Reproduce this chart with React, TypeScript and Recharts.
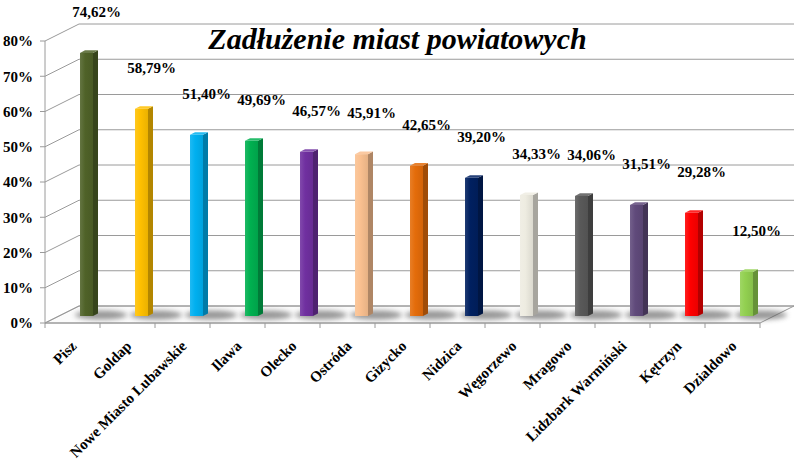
import { Bar, BarChart, CartesianGrid, LabelList, XAxis, YAxis } from 'recharts'

const CITIES = [
  'Pisz',
  'Goldap',
  'Nowe Miasto Lubawskie',
  'Ilawa',
  'Olecko',
  'Ostróda',
  'Gizycko',
  'Nidzica',
  'Węgorzewo',
  'Mragowo',
  'Lidzbark Warmiński',
  'Kętrzyn',
  'Dzialdowo',
]
const DEBT = [74.62, 58.79, 51.4, 49.69, 46.57, 45.91, 42.65, 39.2, 34.33, 34.06, 31.51, 29.28, 12.5]
const COLORS = [
  '#4f6228', '#ffc000', '#00b0f0', '#00b050', '#7030a0', '#fac090', '#e46c0a',
  '#002060', '#eeece1', '#595959', '#604a7b', '#ff0000', '#92d050',
]
const Y_TICKS = [0, 10, 20, 30, 40, 50, 60, 70, 80]

const data = CITIES.map((name, i) => ({ name, value: DEBT[i], color: COLORS[i] }))

// fake 3d: back wall is shifted by DX/DY, bars stand a bit behind the front edge
const W = 800
const H = 460
const M_TOP = 41
const M_RIGHT = 40
const AXIS_W = 45
const AXIS_H = 137
const PLOT_BOTTOM = H - AXIS_H
const BAND = (W - M_RIGHT - AXIS_W) / CITIES.length
const DX = 34
const DY = -17
const BAR_OX = 14
const BAR_OY = -7
const GRID = '#9a9a9a'
const SERIF = 'Liberation Serif'

const textStyle = { fontFamily: SERIF, fontWeight: 700 }

function shade(hex: string, f: number) {
  const n = parseInt(hex.slice(1), 16)
  const ch = [(n >> 16) & 255, (n >> 8) & 255, n & 255]
  const m = (v: number) => Math.round(f < 1 ? v * f : v + (255 - v) * (f - 1))
  return `rgb(${ch.map(m).join(',')})`
}

const pct = (v: number) => v.toFixed(2).replace('.', ',') + '%'

function GridLine(props: any) {
  const { x1, y1, x2 } = props
  const isFloor = Math.abs(y1 - PLOT_BOTTOM) < 1
  return (
    <g key={props.key}>
      {isFloor && (
        <path
          d={`M${x1},${y1} L${x1 + DX},${y1 + DY} L${x2 + DX},${y1 + DY} L${x2},${y1} Z`}
          fill="#fbfbfb"
          stroke={GRID}
        />
      )}
      <path d={`M${x1},${y1} L${x1 + DX},${y1 + DY} L${x2 + DX},${y1 + DY}`} fill="none" stroke={GRID} />
    </g>
  )
}

function Bar3D(props: any) {
  const { x, y, width, height, payload, index } = props
  const bx = x + BAR_OX
  const by = y + BAR_OY
  const d = 5
  const dd = 2.6
  const c = payload.color
  return (
    <g>
      <defs>
        <filter id={`sh${index}`} x="-50%" y="-100%" width="200%" height="300%">
          <feGaussianBlur stdDeviation="2.5" />
        </filter>
        <linearGradient id={`fg${index}`} x1="0" x2="1" y1="0" y2="0">
          <stop offset="0" stopColor={shade(c, 1.12)} />
          <stop offset="0.4" stopColor={c} />
          <stop offset="1" stopColor={shade(c, 0.92)} />
        </linearGradient>
      </defs>
      <ellipse
        cx={bx + width + 8}
        cy={by + height - 1}
        rx={26}
        ry={4.5}
        fill="#555"
        opacity={0.6}
        filter={`url(#sh${index})`}
      />
      <polygon
        points={`${bx + width},${by} ${bx + width + d},${by - dd} ${bx + width + d},${by + height - dd} ${bx + width},${by + height}`}
        fill={shade(c, 0.7)}
      />
      <polygon
        points={`${bx},${by} ${bx + d},${by - dd} ${bx + width + d},${by - dd} ${bx + width},${by}`}
        fill={shade(c, 1.15)}
      />
      <rect x={bx} y={by} width={width} height={height} fill={`url(#fg${index})`} />
    </g>
  )
}

function ValueLabel(props: any) {
  const { x, y, width, value } = props
  return (
    <text
      x={x + width / 2 + BAR_OX + 10}
      y={y + BAR_OY - 36}
      textAnchor="middle"
      style={{ ...textStyle, fontSize: 15 }}
      fill="#000"
    >
      {pct(value)}
    </text>
  )
}

function CityTick(props: any) {
  const { x, y, payload, index } = props
  const half = BAND / 2
  return (
    <g>
      <line x1={x - half} y1={y} x2={x - half} y2={y + 5} stroke={GRID} />
      {index === CITIES.length - 1 && <line x1={x + half} y1={y} x2={x + half} y2={y + 5} stroke={GRID} />}
      <text
        transform={`translate(${x + 5},${y + 24}) rotate(-45)`}
        textAnchor="end"
        style={{ ...textStyle, fontSize: 15 }}
        fill="#000"
      >
        {payload.value}
      </text>
    </g>
  )
}

export default function App() {
  return (
    <div style={{ position: 'absolute', left: 0, top: 0, width: W, height: H, background: '#fff' }}>
      <BarChart width={W} height={H} data={data} margin={{ top: M_TOP, right: M_RIGHT, bottom: 0, left: 0 }}>
        <CartesianGrid vertical={false} horizontal={GridLine} />
        <XAxis
          dataKey="name"
          interval={0}
          height={AXIS_H}
          tickSize={0}
          tickMargin={0}
          tickLine={false}
          axisLine={{ stroke: GRID }}
          tick={CityTick}
        />
        <YAxis
          domain={[0, 80]}
          ticks={Y_TICKS}
          width={AXIS_W}
          tickSize={5}
          tickMargin={7}
          axisLine={{ stroke: GRID }}
          tickLine={{ stroke: GRID }}
          tick={{ style: { ...textStyle, fontSize: 15 }, fill: '#000' }}
          tickFormatter={(v: number) => `${v}%`}
        />
        <Bar dataKey="value" barSize={13} shape={Bar3D} isAnimationActive={false}>
          <LabelList dataKey="value" content={ValueLabel} />
        </Bar>
      </BarChart>
      <div
        style={{
          position: 'absolute',
          left: 0,
          width: 795,
          top: 24,
          textAlign: 'center',
          fontFamily: SERIF,
          fontWeight: 'bold',
          fontStyle: 'italic',
          fontSize: 30,
          lineHeight: '30px',
          color: '#000',
        }}
      >
        Zadłużenie miast powiatowych
      </div>
    </div>
  )
}
